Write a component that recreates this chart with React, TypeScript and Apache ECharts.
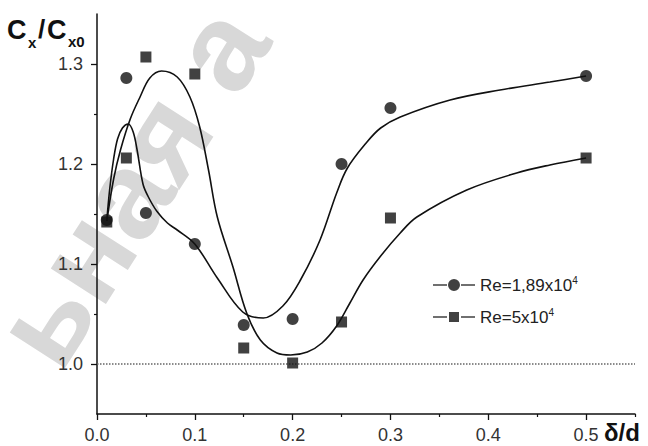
import { useEffect, useRef } from 'react';
import * as echarts from 'echarts';

// Measured points, δ/d vs Cx/Cx0
const deltaD = [0.01, 0.03, 0.05, 0.1, 0.15, 0.2, 0.25, 0.3, 0.5];
const cxLowRe = [1.144, 1.286, 1.151, 1.12, 1.039, 1.045, 1.2, 1.256, 1.288];
const cxHighRe = [1.142, 1.206, 1.307, 1.29, 1.016, 1.001, 1.042, 1.146, 1.206];

// Approximating curves through each data set
const fitLowReX = [0.01, 0.013, 0.017, 0.021, 0.026, 0.032, 0.037, 0.041, 0.047, 0.052, 0.061, 0.072, 0.082, 0.1, 0.123, 0.149, 0.17, 0.19, 0.208, 0.228, 0.245, 0.256, 0.276, 0.29, 0.31, 0.361, 0.412, 0.463, 0.5];
const fitLowReY = [1.143, 1.175, 1.205, 1.225, 1.236, 1.24, 1.232, 1.214, 1.18, 1.168, 1.153, 1.141, 1.134, 1.12, 1.086, 1.052, 1.046, 1.058, 1.084, 1.124, 1.171, 1.196, 1.222, 1.236, 1.247, 1.264, 1.274, 1.282, 1.288];
const fitHighReX = [0.01, 0.017, 0.024, 0.034, 0.044, 0.054, 0.066, 0.082, 0.095, 0.105, 0.114, 0.123, 0.139, 0.153, 0.167, 0.184, 0.198, 0.215, 0.23, 0.245, 0.258, 0.272, 0.29, 0.31, 0.327, 0.378, 0.429, 0.463, 0.5];
const fitHighReY = [1.143, 1.185, 1.214, 1.245, 1.267, 1.286, 1.293, 1.287, 1.267, 1.237, 1.194, 1.147, 1.097, 1.051, 1.024, 1.011, 1.009, 1.012, 1.021, 1.038, 1.06, 1.084, 1.108, 1.131, 1.147, 1.174, 1.191, 1.199, 1.206];

const xMajorTicks = [0, 0.1, 0.2, 0.3, 0.4, 0.5];
const xMinorTicks = [0.05, 0.15, 0.25, 0.35, 0.45, 0.55];
const yMajorTicks = [1.0, 1.1, 1.2, 1.3];
const yMinorTicks = [1.05, 1.15, 1.25];
const referenceLevel = 1.0;

const seriesLowRe = 'Re=1,89x10⁴';
const seriesHighRe = 'Re=5x10⁴';

const FONT = 'Liberation Sans, Arial, sans-serif';
const INK = '#111';

const zip = (xs: number[], ys: number[]) => xs.map((x, i) => [x, ys[i]]);

const circleIcon = 'path://M0,5.3h14v1.4h-14z M28,5.3h14v1.4h-14z M15,6a6,6 0 1,0 12,0a6,6 0 1,0 -12,0z';
const squareIcon = 'path://M0,5.3h14v1.4h-14z M28,5.3h14v1.4h-14z M16,1h10v10h-10z';

export default function App() {
  const ref = useRef<HTMLDivElement>(null);

  useEffect(() => {
    const chart = echarts.init(ref.current!, null, { renderer: 'svg' });
    const axisCommon = {
      type: 'value' as const,
      splitLine: { show: false },
    };
    chart.setOption({
      animation: false,
      backgroundColor: '#fff',
      textStyle: { fontFamily: FONT },
      grid: { left: 97, right: 13, top: 14, bottom: 32, containLabel: false },
      xAxis: [
        {
          ...axisCommon,
          min: 0,
          max: 0.55,
          position: 'bottom',
          axisLine: { show: true, lineStyle: { color: INK, width: 1.5 } },
          axisTick: { show: true, length: 6, customValues: xMajorTicks, lineStyle: { color: INK, width: 1.3 } },
          axisLabel: {
            show: true,
            customValues: xMajorTicks,
            margin: 12,
            fontSize: 18,
            color: '#333',
            fontFamily: FONT,
            formatter: (v: number) => v.toFixed(1),
          },
        },
        {
          ...axisCommon,
          min: 0,
          max: 0.55,
          position: 'bottom',
          axisLine: { show: false },
          axisTick: { show: true, length: 3, customValues: xMinorTicks, lineStyle: { color: INK, width: 1.2 } },
          axisLabel: { show: false },
        },
      ],
      yAxis: [
        {
          ...axisCommon,
          min: 0.95,
          max: 1.35,
          position: 'left',
          axisLine: { show: true, lineStyle: { color: INK, width: 1.5 } },
          axisTick: { show: true, length: 6, customValues: yMajorTicks, lineStyle: { color: INK, width: 1.3 } },
          axisLabel: {
            show: true,
            customValues: yMajorTicks,
            margin: 14,
            fontSize: 18,
            color: '#333',
            fontFamily: FONT,
            formatter: (v: number) => v.toFixed(1),
          },
        },
        {
          ...axisCommon,
          min: 0.95,
          max: 1.35,
          position: 'left',
          axisLine: { show: false },
          axisTick: { show: true, length: 3, customValues: yMinorTicks, lineStyle: { color: INK, width: 1.2 } },
          axisLabel: { show: false },
        },
      ],
      legend: {
        orient: 'vertical',
        left: 428,
        top: 270,
        itemWidth: 42,
        itemHeight: 12,
        itemGap: 12,
        data: [
          { name: seriesLowRe, icon: circleIcon },
          { name: seriesHighRe, icon: squareIcon },
        ],
        formatter: (name: string) => name.replace('⁴', '{sup|4}'),
        textStyle: {
          fontSize: 17,
          color: '#222',
          fontFamily: FONT,
          lineHeight: 20,
          rich: {
            sup: { fontSize: 10, lineHeight: 10, verticalAlign: 'top', fontFamily: FONT, color: '#222' },
          },
        },
        selectedMode: false,
      },
      graphic: [
        {
          type: 'text',
          x: 24,
          y: 352,
          rotation: 1.0,
          z: -10,
          silent: true,
          style: {
            text: 'ьная а',
            font: 'bold 124px Liberation Sans',
            fill: '#d8d8d8',
            verticalAlign: 'middle',
            align: 'left',
          },
        },
        { type: 'text', x: 7, y: 30, style: { text: 'C', font: 'bold 27px Liberation Sans', fill: INK, verticalAlign: 'middle' } },
        { type: 'text', x: 28, y: 42, style: { text: 'x', font: 'bold 15px Liberation Sans', fill: INK, verticalAlign: 'middle' } },
        { type: 'text', x: 38, y: 29, style: { text: '/', font: 'bold 26px Liberation Sans', fill: INK, verticalAlign: 'middle' } },
        { type: 'text', x: 47, y: 30, style: { text: 'C', font: 'bold 27px Liberation Sans', fill: INK, verticalAlign: 'middle' } },
        { type: 'text', x: 68, y: 41, style: { text: 'x0', font: 'bold 15px Liberation Sans', fill: INK, verticalAlign: 'middle' } },
        { type: 'text', x: 604, y: 432, style: { text: 'δ/d', font: 'bold 24px Liberation Sans', fill: INK, verticalAlign: 'middle' } },
      ],
      series: [
        {
          name: seriesLowRe,
          type: 'scatter',
          symbol: 'circle',
          symbolSize: 12,
          itemStyle: { color: INK },
          data: zip(deltaD, cxLowRe),
          z: 5,
          markLine: {
            silent: true,
            symbol: 'none',
            label: { show: false },
            lineStyle: { type: 'dotted', color: '#666', width: 1.5 },
            data: [{ yAxis: referenceLevel }],
          },
        },
        {
          name: seriesHighRe,
          type: 'scatter',
          symbol: 'rect',
          symbolSize: 11,
          itemStyle: { color: INK },
          data: zip(deltaD, cxHighRe),
          z: 5,
        },
        {
          name: 'fitLowRe',
          type: 'line',
          smooth: 0.35,
          showSymbol: false,
          symbol: 'none',
          lineStyle: { color: INK, width: 1.6 },
          data: zip(fitLowReX, fitLowReY),
          z: 3,
        },
        {
          name: 'fitHighRe',
          type: 'line',
          smooth: 0.35,
          showSymbol: false,
          symbol: 'none',
          lineStyle: { color: INK, width: 1.6 },
          data: zip(fitHighReX, fitHighReY),
          z: 3,
        },
      ],
    });
    return () => chart.dispose();
  }, []);

  return (
    <div
      ref={ref}
      style={{ position: 'absolute', left: 0, top: 0, width: 648, height: 446, background: '#fff' }}
    />
  );
}
